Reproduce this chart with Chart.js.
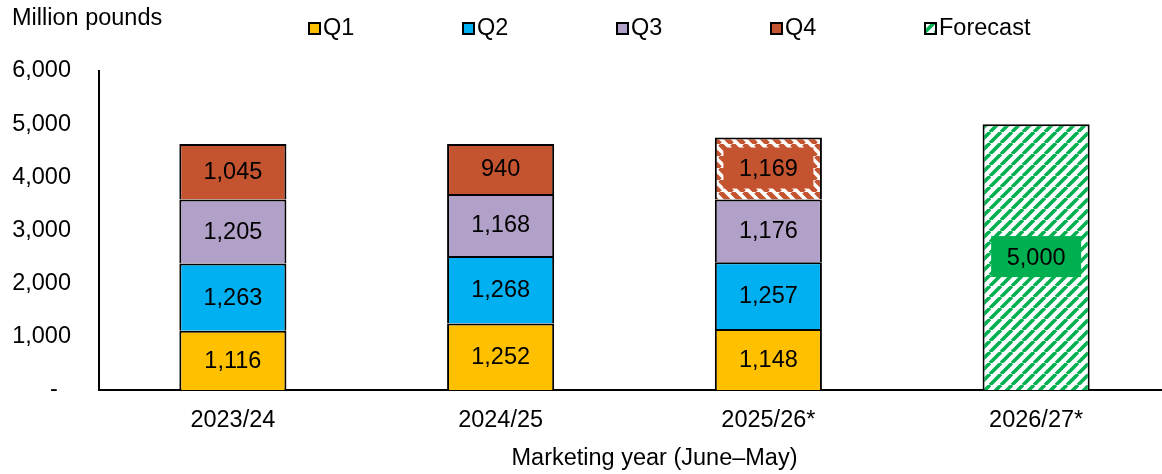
<!DOCTYPE html>
<html>
<head>
<meta charset="utf-8">
<script src="https://cdn.jsdelivr.net/npm/chart.js@4.4.1/dist/chart.umd.min.js"></script>
<style>
  body { margin: 0; background: #fff; }
  #wrap { width: 1162px; height: 474px; overflow: hidden; }
</style>
</head>
<body>
<div id="wrap"><canvas id="mycanvas" width="1170" height="474"></canvas></div>
<script>
var years = ["2023/24", "2024/25", "2025/26*", "2026/27*"];
var q1 = [1116, 1252, 1148, null];
var q2 = [1263, 1268, 1257, null];
var q3 = [1205, 1168, 1176, null];
var q4 = [1045, 940, 1169, null];
var forecast = [null, null, null, 5000];
var yTicks = [0, 1000, 2000, 3000, 4000, 5000, 6000];

var FONT = "Arial, 'Liberation Sans', sans-serif";
var FS = 23.5;
var colQ1 = "#FFC000", colQ2 = "#00B0F0", colQ3 = "#B1A0C7", colQ4 = "#C4532F", colFc = "#00B050";

function stripes(color, size, width, dir) {
  var c = document.createElement("canvas");
  c.width = size; c.height = size;
  var g = c.getContext("2d");
  g.fillStyle = "#fff";
  g.fillRect(0, 0, size, size);
  g.strokeStyle = color;
  g.lineWidth = width;
  g.beginPath();
  for (var k = -1; k <= 1; k++) {
    if (dir > 0) { // "/"
      g.moveTo(k * size, size); g.lineTo(k * size + size, 0);
    } else {       // "\"
      g.moveTo(k * size, 0); g.lineTo(k * size + size, size);
    }
  }
  g.stroke();
  return g.createPattern(c, "repeat");
}

var ctx = document.getElementById("mycanvas").getContext("2d");
var q4Hatch = stripes(colQ4, 12, 5, -1);
var fcHatch = stripes(colFc, 11, 3.6, 1);

// bars whose label gets a filled box behind it
var labelBoxes = { "3-2": colQ4, "4-3": colFc };

var labelPlugin = {
  id: "barLabels",
  afterDatasetsDraw: function(chart) {
    var c = chart.ctx;
    c.save();
    c.font = FS + "px " + FONT;
    c.textAlign = "center";
    c.textBaseline = "middle";
    chart.data.datasets.forEach(function(ds, di) {
      var meta = chart.getDatasetMeta(di);
      meta.data.forEach(function(bar, i) {
        var v = ds.data[i];
        if (v == null) return;
        var y = (bar.y + bar.base) / 2;
        var box = labelBoxes[di + "-" + i];
        if (box) {
          c.fillStyle = box;
          c.fillRect(bar.x - 45, y - 21, 90, 41);
        }
        c.fillStyle = "#000";
        c.fillText(v.toLocaleString("en-US"), bar.x, y + 1);
      });
    });
    c.restore();
  }
};

var legendItems = [
  { text: "Q1", fill: colQ1 },
  { text: "Q2", fill: colQ2 },
  { text: "Q3", fill: colQ3 },
  { text: "Q4", fill: colQ4 },
  { text: "Forecast", fill: fcHatch }
];

var textPlugin = {
  id: "extraText",
  afterDraw: function(chart) {
    var c = chart.ctx, a = chart.chartArea;
    c.save();
    c.font = FS + "px " + FONT;
    c.fillStyle = "#000";
    c.textBaseline = "middle";
    c.textAlign = "left";
    c.fillText("Million pounds", 12, 19);
    var x = 309;
    legendItems.forEach(function(it) {
      c.fillStyle = it.fill;
      c.fillRect(x, 23, 11, 11);
      c.strokeStyle = "#000";
      c.lineWidth = 2;
      c.strokeRect(x, 23, 11, 11);
      c.fillStyle = "#000";
      c.fillText(it.text, x + 14, 29);
      x += 154;
    });
    c.textAlign = "center";
    c.fillText("Marketing year (June\u2013May)", (a.left + a.right) / 2 + 20, 459);
    c.restore();
  }
};

var common = { borderColor: "#000", borderWidth: 2, borderSkipped: "bottom",
  barPercentage: 0.4, categoryPercentage: 1.0, stack: "s" };

var chartdata = {
  labels: years,
  datasets: [
    Object.assign({ label: "Q1", data: q1, backgroundColor: colQ1 }, common),
    Object.assign({ label: "Q2", data: q2, backgroundColor: colQ2 }, common),
    Object.assign({ label: "Q3", data: q3, backgroundColor: colQ3 }, common),
    Object.assign({ label: "Q4", data: q4, backgroundColor: [colQ4, colQ4, q4Hatch, colQ4] }, common),
    Object.assign({ label: "Forecast", data: forecast, backgroundColor: fcHatch }, common)
  ]
};

var LineGraph = new Chart(ctx, {
  type: "bar",
  data: chartdata,
  plugins: [labelPlugin, textPlugin],
  options: {
    responsive: false,
    animation: false,
    layout: { padding: { top: 71, right: 0, left: 0, bottom: 0 } },
    plugins: { legend: { display: false }, tooltip: { enabled: false } },
    scales: {
      x: {
        stacked: true,
        grid: { display: false },
        border: { color: "#000", width: 2 },
        ticks: { color: "#000", font: { size: FS, family: FONT }, padding: 8 },
        afterFit: function(s) { s.height = 84; }
      },
      y: {
        stacked: true,
        min: 0, max: 6000,
        grid: { display: false },
        border: { color: "#000", width: 2 },
        afterFit: function(s) { s.width = 99; },
        afterBuildTicks: function(s) { s.ticks = yTicks.map(function(v) { return { value: v }; }); },
        ticks: {
          color: "#000", font: { size: FS, family: FONT }, padding: 20,
          callback: function(v) { return v === 0 ? "-  " : v.toLocaleString("en-US"); }
        }
      }
    }
  }
});
</script>
</body>
</html>
